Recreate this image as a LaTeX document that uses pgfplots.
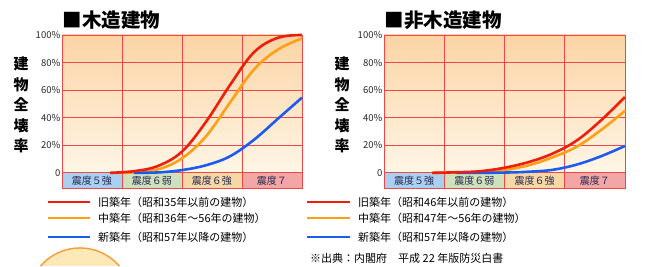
\documentclass[border=0pt]{standalone}
\usepackage{pgfplots}
\pgfplotsset{compat=1.18}
\usepackage{fontspec}
\setmainfont{Noto Sans CJK JP}
\definecolor{cred}{RGB}{238,30,10}
\definecolor{corange}{RGB}{255,160,20}
\definecolor{cblue}{RGB}{30,90,240}
\definecolor{gridred}{RGB}{240,70,70}
\definecolor{bgtop}{RGB}{250,212,165}
\definecolor{bgbot}{RGB}{255,246,230}
\definecolor{b5}{RGB}{170,208,240}
\definecolor{b6w}{RGB}{205,226,188}
\definecolor{b6s}{RGB}{245,216,166}
\definecolor{b7}{RGB}{243,166,166}
\definecolor{bandtxt}{RGB}{40,40,80}
\pgfplotsset{
  myax/.style={
    set layers, scale only axis, width=240pt, height=153pt,
    xmin=0, xmax=4, ymin=-11, ymax=100,
    axis line style={draw=gridred, line width=0.8pt},
    xtick={1,2,3}, xticklabels={},
    ytick={0,20,40,60,80,100},
    yticklabels={0,20\%,40\%,60\%,80\%,100\%},
    grid=major, major grid style={draw=gridred, line width=0.7pt},
    tick style={draw=none},
    yticklabel style={font=\fontsize{9.5}{10}\selectfont, text=black!85, inner sep=1.5pt},
    clip=false,
  },
  crv/.style={smooth, no marks, line width=2.6pt, tension=0.6},
}
\newcommand{\bg}{%
  \begin{pgfonlayer}{axis background}
    \fill[top color=bgtop, bottom color=bgbot] (axis cs:0,0) rectangle (axis cs:4,100);
    \fill[b5] (axis cs:0,-11) rectangle (axis cs:1,0);
    \fill[b6w] (axis cs:1,-11) rectangle (axis cs:2,0);
    \fill[b6s] (axis cs:2,-11) rectangle (axis cs:3,0);
    \fill[b7] (axis cs:3,-11) rectangle (axis cs:4,0);
  \end{pgfonlayer}
  \node[font=\fontsize{10}{11}\selectfont, text=bandtxt] at (axis cs:0.5,-5.5) {震度５強};
  \node[font=\fontsize{10}{11}\selectfont, text=bandtxt] at (axis cs:1.5,-5.5) {震度６弱};
  \node[font=\fontsize{10}{11}\selectfont, text=bandtxt] at (axis cs:2.5,-5.5) {震度６強};
  \node[font=\fontsize{10}{11}\selectfont, text=bandtxt] at (axis cs:3.5,-5.5) {震度７};
}
\begin{document}
\begin{tikzpicture}
\path (0pt,0pt) rectangle (662pt,266pt);
\fill[fill={rgb,255:red,253;green,233;blue,184}, draw={rgb,255:red,245;green,160;blue,64}, line width=1.5pt] (119.3pt,0pt) arc[start angle=40.8, end angle=139.2, radius=52pt];
% titles
\node[anchor=west, font=\fontsize{19.5}{20}\selectfont\bfseries] at (59pt,246pt) {■木造建物};
\node[anchor=west, font=\fontsize{19.5}{20}\selectfont\bfseries] at (381pt,246pt) {■非木造建物};
% y labels
\node[align=center, font=\fontsize{15}{20.5}\selectfont\bfseries] at (21pt,161pt) {建\\物\\全\\壊\\率};
\node[align=center, font=\fontsize{15}{20.5}\selectfont\bfseries] at (342pt,161pt) {建\\物\\全\\壊\\率};
% left axis
\begin{axis}[myax, at={(62pt,78pt)}, anchor=south west]
\bg
\addplot[crv, corange] coordinates {(0.85,0) (1.2,0.3) (1.6,2.5) (2.0,10.5) (2.4,26.5) (2.8,51) (3.2,75) (3.6,89.5) (4.0,97.5)};
\addplot[crv, cblue] coordinates {(1.2,0) (1.6,0.3) (2.0,2) (2.4,5.5) (2.8,12) (3.2,24) (3.6,39.3) (4.0,54.6)};
\addplot[crv, cred] coordinates {(0.8,0) (1.2,1.2) (1.6,5) (2.0,15.4) (2.4,37) (2.8,63.7) (3.2,87.5) (3.6,98) (4.0,100)};
\end{axis}
% right axis
\begin{axis}[myax, at={(384pt,78pt)}, anchor=south west, width=241pt]
\bg
\addplot[crv, corange] coordinates {(0.8,0) (1.2,0.2) (1.6,0.6) (2.0,2) (2.4,5.5) (2.8,11.3) (3.2,19) (3.6,31) (4.0,45)};
\addplot[crv, cblue] coordinates {(1.2,0) (1.6,0.05) (2.0,0.2) (2.4,0.8) (2.8,2.2) (3.2,6) (3.6,12) (4.0,19.5)};
\addplot[crv, cred] coordinates {(0.8,0) (1.2,0.4) (1.6,1.2) (2.0,3.7) (2.4,7.8) (2.8,14) (3.2,23.5) (3.6,38) (4.0,55)};
\end{axis}
% legends
\begin{scope}[font=\fontsize{11}{12}\selectfont]
\draw[cred, line width=2.6pt] (48pt,64pt) -- (90pt,64pt);
\draw[corange, line width=2.6pt] (48pt,48pt) -- (90pt,48pt);
\draw[cblue, line width=2.6pt] (48pt,29pt) -- (90pt,29pt);
\node[anchor=west, inner sep=0] at (98pt,64pt) {旧築年（昭和35年以前の建物）};
\node[anchor=west, inner sep=0] at (98pt,48pt) {中築年（昭和36年～56年の建物）};
\node[anchor=west, inner sep=0] at (98pt,29pt) {新築年（昭和57年以降の建物）};
\draw[cred, line width=2.6pt] (307pt,64pt) -- (350pt,64pt);
\draw[corange, line width=2.6pt] (307pt,48pt) -- (350pt,48pt);
\draw[cblue, line width=2.6pt] (307pt,29pt) -- (350pt,29pt);
\node[anchor=west, inner sep=0] at (358pt,64pt) {旧築年（昭和46年以前の建物）};
\node[anchor=west, inner sep=0] at (358pt,48pt) {中築年（昭和47年～56年の建物）};
\node[anchor=west, inner sep=0] at (358pt,29pt) {新築年（昭和57年以降の建物）};
\node[anchor=west, inner sep=0] at (310pt,8pt) {※出典：内閣府　平成 22 年版防災白書};
\end{scope}
\end{tikzpicture}
\end{document}
